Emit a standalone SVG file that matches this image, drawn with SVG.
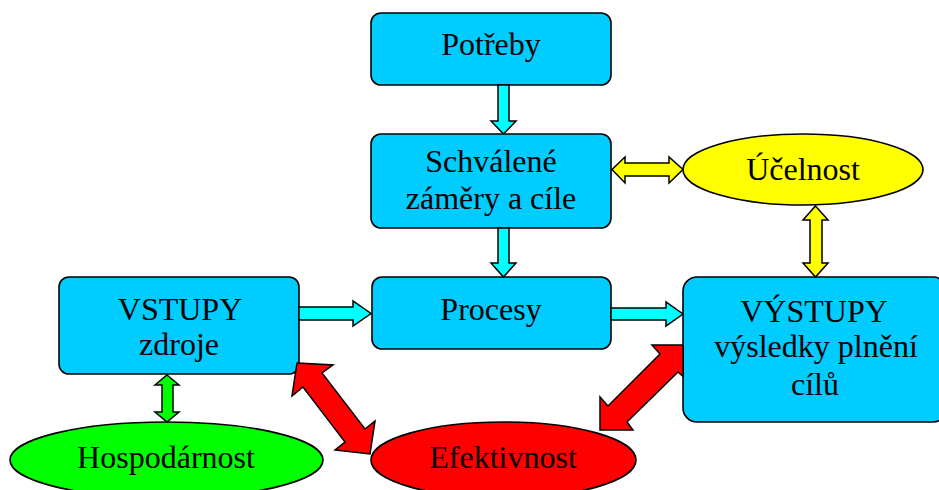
<svg xmlns="http://www.w3.org/2000/svg" width="939" height="490" viewBox="0 0 939 490">
  <style>
    .box { fill: #00CCFF; stroke: #000; stroke-width: 1.6; }
    .lbl { font-family: "Liberation Serif", "Times New Roman", serif; font-size: 32px; fill: #000; text-anchor: middle; }
    .arr { stroke: #000; stroke-width: 1.5; stroke-linejoin: miter; }
    .cyan { fill: #00FFFF; }
    .yellow { fill: #FFFF00; }
    .green { fill: #00FF00; }
    .red { fill: #FF0000; }
  </style>
  <rect width="939" height="490" fill="#fff"/>

  <!-- nodes -->
  <g id="potreby">
    <rect class="box" x="371" y="13" width="240" height="72" rx="10"/>
    <text class="lbl" x="491" y="55">Potřeby</text>
  </g>
  <g id="zamery">
    <rect class="box" x="371" y="134" width="240" height="94" rx="10"/>
    <text class="lbl" x="491" y="172">Schválené</text>
    <text class="lbl" x="491" y="209">záměry a cíle</text>
  </g>
  <g id="procesy">
    <rect class="box" x="372" y="277" width="239" height="72" rx="10"/>
    <text class="lbl" x="491" y="320">Procesy</text>
  </g>
  <g id="vstupy">
    <rect class="box" x="59" y="277" width="240" height="97" rx="10"/>
    <text class="lbl" x="180" y="320">VSTUPY</text>
    <text class="lbl" x="179" y="355">zdroje</text>
  </g>
  <g id="vystupy">
    <rect class="box" x="683" y="277" width="264" height="145" rx="14"/>
    <text class="lbl" x="814" y="322">VÝSTUPY</text>
    <text class="lbl" x="816" y="357">výsledky plnění</text>
    <text class="lbl" x="815" y="395">cílů</text>
  </g>
  <g id="ucelnost">
    <ellipse cx="803" cy="169.5" rx="120" ry="35.5" fill="#FFFF00" stroke="#000" stroke-width="1.6"/>
    <text class="lbl" x="803" y="180">Účelnost</text>
  </g>
  <g id="hospodarnost">
    <ellipse cx="166.5" cy="460" rx="156.5" ry="38" fill="#00FF00" stroke="#000" stroke-width="1.6"/>
    <text class="lbl" x="166" y="468">Hospodárnost</text>
  </g>
  <g id="efektivnost">
    <ellipse cx="503.5" cy="460" rx="132.5" ry="38" fill="#FF0000" stroke="#000" stroke-width="1.6"/>
    <text class="lbl" x="503" y="468">Efektivnost</text>
  </g>

  <!-- connectors -->
  <g id="connectors">
    <!-- Potřeby -> Schválené záměry -->
    <polygon class="arr cyan" points="498,85 509,85 509,121 516,121 503.5,134 491,121 498,121"/>
    <!-- Schválené záměry -> Procesy -->
    <polygon class="arr cyan" points="498,228 509,228 509,263 516,263 503.5,277 491,263 498,263"/>
    <!-- VSTUPY -> Procesy -->
    <polygon class="arr cyan" points="299,307 353,307 353,301 371,313.5 353,326 353,320 299,320"/>
    <!-- Procesy -> VÝSTUPY -->
    <polygon class="arr cyan" points="611,308 666,308 666,302 683,314 666,326 666,320 611,320"/>
    <!-- Schválené záměry <-> Účelnost -->
    <polygon class="arr yellow" points="612,169.5 625,157 625,163 669,163 669,157 683,169.5 669,183 669,176 625,176 625,183"/>
    <!-- Účelnost <-> VÝSTUPY -->
    <polygon class="arr yellow" points="815.5,206 828,220 822,220 822,263 828,263 815.5,277 803,263 810,263 810,220 803,220"/>
    <!-- VSTUPY <-> Hospodárnost -->
    <polygon class="arr green" points="167,375 179,385 173,385 173,412 179,412 167,422 155,412 162,412 162,385 155,385"/>
    <!-- VSTUPY <-> Efektivnost -->
    <polygon class="arr red" points="297,363 333,365 322,373 365,429 375,421 370,454 335,450 345,442 303,387 292,396"/>
    <!-- Efektivnost <-> VÝSTUPY -->
    <polygon class="arr red" points="652,345 683,345 683,376.4 678,372 627,422 633,430 600,430 600,397 608,406 660,354"/>
  </g>
</svg>
